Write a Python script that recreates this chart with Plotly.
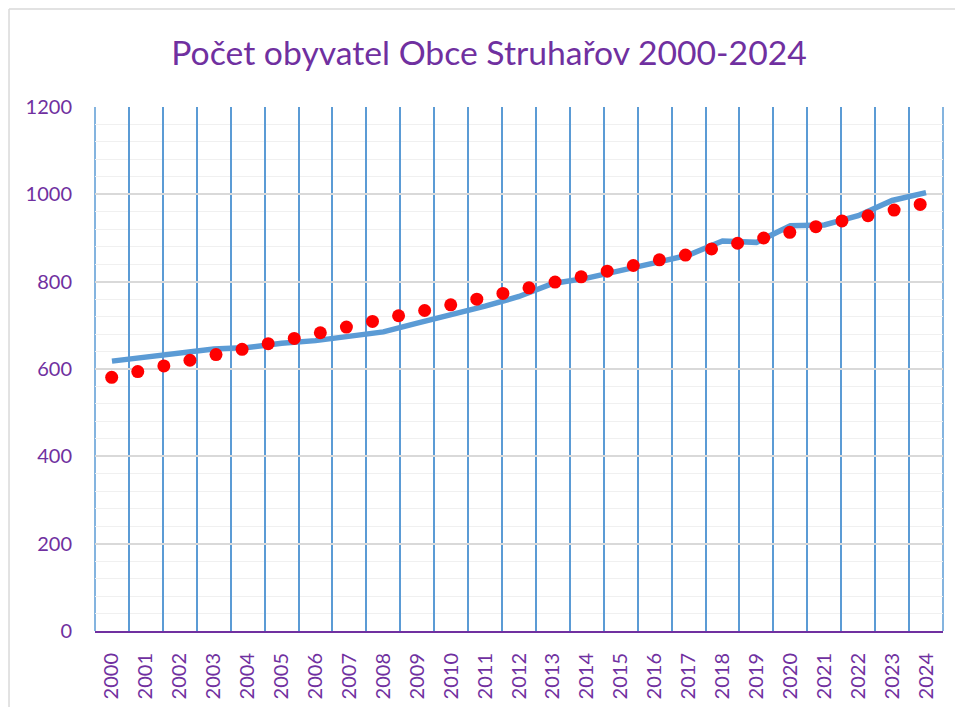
import plotly.graph_objects as go

years = [str(y) for y in range(2000, 2025)]
line_values = [618, 628, 636, 646, 649, 659, 665, 674, 685, 705, 723, 744, 766, 796, 808,
               824, 843, 861, 893, 890, 928, 930, 951, 986, 1004]
dot_values = [581, 594, 607, 620, 633, 645, 658, 670, 683, 696, 709, 722, 734, 747, 760, 773,
              786, 799, 811, 824, 837, 850, 861, 875, 888, 900, 913, 926, 939, 951, 964, 977]
y_ticks = [0, 200, 400, 600, 800, 1000, 1200]

PURPLE = "#7030A0"
BLUE = "#5B9BD5"
FONT = "Lato"

fig = go.Figure()
fig.add_trace(go.Scatter(x=years, y=line_values, mode="lines",
                         line=dict(color=BLUE, width=5.5), xaxis="x", yaxis="y",
                         showlegend=False, hoverinfo="x+y"))
fig.add_trace(go.Scatter(x=list(range(len(dot_values))), y=dot_values, mode="markers",
                         marker=dict(color="#FF0000", size=13, line=dict(width=0)),
                         xaxis="x2", yaxis="y", showlegend=False))

fig.update_layout(
    width=955, height=699,
    margin=dict(l=87, r=20, t=99, b=76, autoexpand=False),
    paper_bgcolor="white", plot_bgcolor="white",
    font=dict(family=FONT, color=PURPLE, size=20),
    title=dict(text="Počet obyvatel Obce Struhařov 2000-2024",
               font=dict(family=FONT, size=33.7, color=PURPLE),
               x=0.5037, xref="container", xanchor="center",
               y=0.935, yref="container", yanchor="middle", automargin=False),
    xaxis=dict(type="category", categoryorder="array", categoryarray=years,
               tickson="boundaries", showgrid=True, gridcolor=BLUE, gridwidth=1.5,
               ticks="", tickangle=-90, ticklabelstandoff=12, automargin=False,
               showline=True, linecolor=PURPLE, linewidth=2,
               tickfont=dict(family=FONT, size=20, color=PURPLE),
               range=[-0.5, len(years) - 0.5], zeroline=False),
    xaxis2=dict(overlaying="x", range=[-0.64, 31.875], visible=False,
                showgrid=False, zeroline=False),
    yaxis=dict(range=[0, 1200], tickvals=y_ticks, showgrid=True, gridcolor="#D9D9D9",
               gridwidth=1.5, zeroline=False, ticks="", ticklabelstandoff=22,
               automargin=False,
               tickfont=dict(family=FONT, size=20, color=PURPLE),
               minor=dict(dtick=40, showgrid=True, gridcolor="#F0F0F0", gridwidth=1.2)),
    shapes=[
        dict(type="line", xref="paper", yref="paper", x0=0, x1=0, y0=0, y1=1,
             line=dict(color=BLUE, width=1.5), layer="below"),
        dict(type="line", xref="paper", yref="paper", x0=1, x1=1, y0=0, y1=1,
             line=dict(color=BLUE, width=1.5), layer="below"),
        dict(type="line", xref="paper", yref="paper", x0=-0.1014, x1=-0.1014, y0=-0.3, y1=1.187,
             line=dict(color="#D9D9D9", width=1.5), layer="below"),
        dict(type="line", xref="paper", yref="paper", x0=-0.1014, x1=1.05, y0=1.187, y1=1.187,
             line=dict(color="#D9D9D9", width=1.5), layer="below"),
    ],
)

fig.write_html("out.html")
